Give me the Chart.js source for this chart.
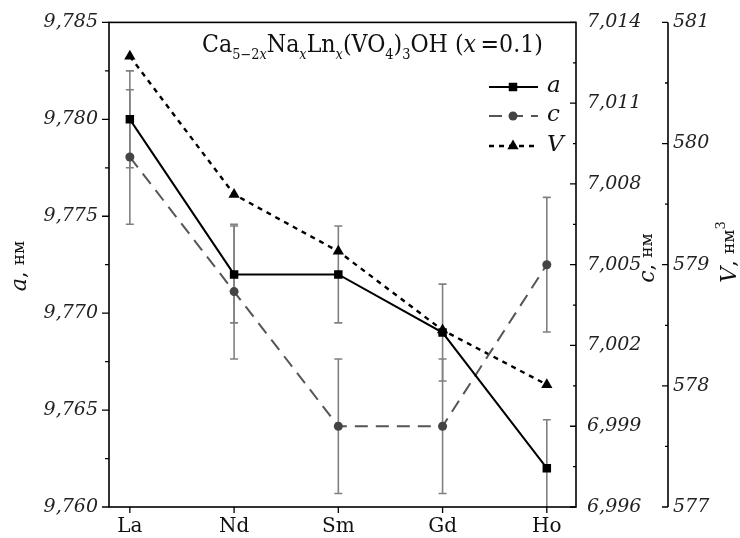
<!DOCTYPE html>
<html>
<head>
<meta charset="utf-8">
<script src="https://cdn.jsdelivr.net/npm/chart.js@4.4.0/dist/chart.umd.min.js"></script>
<style>
html, body { margin: 0; padding: 0; background: #fff; }
#wrap { width: 740px; height: 538px; }
</style>
</head>
<body>
<div id="wrap"><canvas id="chartLattice"></canvas></div>
<script>
const categories = ['La', 'Nd', 'Sm', 'Gd', 'Ho'];
const aValues = [9.780, 9.772, 9.772, 9.769, 9.762];
const aErrors = [0.0025, 0.0025, 0.0025, 0.0025, 0.0025];
const cValues = [7.009, 7.004, 6.999, 6.999, 7.005];
const cErrors = [0.0025, 0.0025, 0.0025, 0.0025, 0.0025];
const vValues = [580.72, 579.58, 579.11, 578.46, 578.01];
const aTicks = [9.760, 9.765, 9.770, 9.775, 9.780, 9.785];
const cTicks = [6.996, 6.999, 7.002, 7.005, 7.008, 7.011, 7.014];
const vTicks = [577, 578, 579, 580, 581];

const SERIF = '"DejaVu Serif", "Liberation Serif", serif';
const fmt3 = v => Number(v).toFixed(3).replace('.', ',');
const toPoints = arr => arr.map((y, i) => ({ x: i, y: y }));

// draw a row of text pieces with different fonts / offsets
function drawRuns(ctx, runs, x, y) {
    let cx = x;
    runs.forEach(r => {
        ctx.font = r.font;
        ctx.fillText(r.t, cx, y + (r.dy || 0));
        cx += ctx.measureText(r.t).width;
    });
}
function runsWidth(ctx, runs) {
    let w = 0;
    runs.forEach(r => { ctx.font = r.font; w += ctx.measureText(r.t).width; });
    return w;
}

const main = '24px ' + SERIF;
const sub = '14px ' + SERIF;
const subI = 'italic 14px ' + SERIF;
const titleRuns = [
    { t: 'Ca', font: main }, { t: '5\u22122', font: sub, dy: 7 }, { t: 'x', font: subI, dy: 7 },
    { t: 'Na', font: main }, { t: 'x', font: subI, dy: 7 },
    { t: 'Ln', font: main }, { t: 'x', font: subI, dy: 7 },
    { t: '(VO', font: main }, { t: '4', font: sub, dy: 7 },
    { t: ')', font: main }, { t: '3', font: sub, dy: 7 },
    { t: 'OH (', font: main }, { t: 'x', font: 'italic 24px ' + SERIF },
    { t: '\u2009=0.1)', font: main }
];

function axisTitle(ctx, runs, cx, cy) {
    ctx.save();
    ctx.translate(cx, cy);
    ctx.rotate(-Math.PI / 2);
    ctx.textBaseline = 'middle';
    drawRuns(ctx, runs, -runsWidth(ctx, runs) / 2, 0);
    ctx.restore();
}

function yTickMarks(ctx, scale, values, x, major, minor) {
    ctx.beginPath();
    values.forEach((v, i) => {
        const y = scale.getPixelForValue(v);
        ctx.moveTo(x, y); ctx.lineTo(x - major, y);
        if (i < values.length - 1) {
            const ym = scale.getPixelForValue((v + values[i + 1]) / 2);
            ctx.moveTo(x, ym); ctx.lineTo(x - minor, ym);
        }
    });
    ctx.stroke();
}

const overlay = {
    id: 'overlay',
    beforeDatasetsDraw(chart) {
        const { ctx, chartArea: ca, scales } = chart;
        ctx.save();
        ctx.beginPath();
        ctx.rect(ca.left, ca.top, ca.right - ca.left, ca.bottom - ca.top);
        ctx.clip();
        ctx.strokeStyle = '#808080';
        ctx.lineWidth = 1.6;
        const bar = (i, v, e, sc) => {
            const x = scales.x.getPixelForValue(i);
            const y1 = sc.getPixelForValue(v + e);
            const y2 = sc.getPixelForValue(v - e);
            ctx.beginPath();
            ctx.moveTo(x, y1); ctx.lineTo(x, y2);
            ctx.moveTo(x - 4, y1); ctx.lineTo(x + 4, y1);
            ctx.moveTo(x - 4, y2); ctx.lineTo(x + 4, y2);
            ctx.stroke();
        };
        aValues.forEach((v, i) => bar(i, v, aErrors[i], scales.a));
        cValues.forEach((v, i) => bar(i, v, cErrors[i], scales.c));
        ctx.restore();
    },
    afterDraw(chart) {
        const { ctx, chartArea: ca, scales } = chart;
        ctx.save();
        // frame and axis lines
        ctx.strokeStyle = '#000';
        ctx.lineWidth = 1.6;
        ctx.strokeRect(ca.left, ca.top, ca.right - ca.left, ca.bottom - ca.top);
        ctx.beginPath();
        ctx.moveTo(scales.v.left, ca.top); ctx.lineTo(scales.v.left, ca.bottom);
        ctx.stroke();
        ctx.lineWidth = 1.3;
        yTickMarks(ctx, scales.a, aTicks, ca.left, 7, 4);
        yTickMarks(ctx, scales.c, cTicks, ca.right, 6, 3);
        yTickMarks(ctx, scales.v, vTicks, scales.v.left, 6, 3);
        ctx.beginPath();
        categories.forEach((c, i) => {
            const x = scales.x.getPixelForValue(i);
            ctx.moveTo(x, ca.bottom); ctx.lineTo(x, ca.bottom + 6);
        });
        ctx.stroke();

        // formula, squeezed a little to the width of the original
        ctx.fillStyle = '#111';
        ctx.textBaseline = 'alphabetic';
        const tw = runsWidth(ctx, titleRuns);
        ctx.save();
        ctx.translate(202, 52);
        ctx.scale(341 / tw, 1);
        drawRuns(ctx, titleRuns, 0, 0);
        ctx.restore();

        // axis titles
        const unit = '17px ' + SERIF;
        axisTitle(ctx, [{ t: 'a', font: 'italic 22px ' + SERIF }, { t: ', ', font: '20px ' + SERIF }, { t: 'нм', font: unit }], 20, 266);
        axisTitle(ctx, [{ t: 'c', font: 'italic 22px ' + SERIF }, { t: ', ', font: '20px ' + SERIF }, { t: 'нм', font: unit }], 648, 258);
        axisTitle(ctx, [{ t: 'V', font: 'italic 22px ' + SERIF }, { t: ', ', font: '20px ' + SERIF }, { t: 'нм', font: unit }, { t: '3', font: '13px ' + SERIF, dy: -8 }], 730, 252);

        // legend
        const rows = [87, 116, 146];
        chart.data.datasets.forEach((ds, k) => {
            const y = rows[k];
            ctx.strokeStyle = ds.borderColor;
            ctx.lineWidth = ds.borderWidth;
            ctx.setLineDash(ds.borderDash || []);
            ctx.beginPath();
            ctx.moveTo(489, y); ctx.lineTo(538, y);
            ctx.stroke();
            ctx.setLineDash([]);
            ctx.fillStyle = ds.pointBackgroundColor;
            ctx.strokeStyle = ds.pointBackgroundColor;
            Chart.helpers.drawPoint(ctx, { pointStyle: ds.pointStyle, radius: ds.pointRadius, rotation: 0, borderWidth: 0 }, 513, y);
            ctx.fillStyle = '#111';
            ctx.font = 'italic 23px ' + SERIF;
            ctx.textBaseline = 'middle';
            ctx.fillText(ds.label, 547, y - 1);
        });
        ctx.restore();
    }
};

new Chart(document.getElementById('chartLattice'), {
    type: 'line',
    data: {
        datasets: [{
            label: 'a',
            data: toPoints(aValues),
            yAxisID: 'a',
            borderColor: '#000',
            borderWidth: 2,
            pointStyle: 'rect',
            pointRadius: 6,
            pointBackgroundColor: '#000',
            pointBorderWidth: 0
        }, {
            label: 'c',
            data: toPoints(cValues),
            yAxisID: 'c',
            borderColor: '#555',
            borderWidth: 2,
            borderDash: [13, 8],
            pointStyle: 'circle',
            pointRadius: 4.5,
            pointBackgroundColor: '#444',
            pointBorderWidth: 0
        }, {
            label: 'V',
            data: toPoints(vValues),
            yAxisID: 'v',
            borderColor: '#000',
            borderWidth: 2.4,
            borderDash: [5, 5],
            pointStyle: 'triangle',
            pointRadius: 6.5,
            pointBackgroundColor: '#000',
            pointBorderWidth: 0
        }]
    },
    options: {
        responsive: true,
        maintainAspectRatio: false,
        animation: false,
        layout: { padding: { top: 21, left: 0, right: 0, bottom: 0 } },
        plugins: { legend: { display: false }, tooltip: { enabled: false } },
        scales: {
            x: {
                type: 'linear',
                min: -0.2,
                max: 4.28,
                grid: { display: false, drawTicks: false },
                border: { display: false },
                afterBuildTicks: s => { s.ticks = categories.map((c, i) => ({ value: i })) },
                afterFit: s => { s.height = 31 },
                ticks: {
                    autoSkip: false,
                    maxRotation: 0,
                    padding: 8,
                    color: '#111',
                    font: { family: SERIF, size: 20 },
                    callback: v => categories[v]
                }
            },
            a: {
                position: 'left',
                min: 9.760,
                max: 9.785,
                grid: { display: false, drawTicks: false },
                border: { display: false },
                afterBuildTicks: s => { s.ticks = aTicks.map(v => ({ value: v })) },
                afterFit: s => { s.width = 109 },
                ticks: { padding: 11, color: '#222', font: { family: SERIF, size: 19, style: 'italic' }, callback: fmt3 }
            },
            c: {
                position: 'right',
                weight: 0,
                min: 6.996,
                max: 7.014,
                grid: { display: false, drawTicks: false },
                border: { display: false },
                afterBuildTicks: s => { s.ticks = cTicks.map(v => ({ value: v })) },
                afterFit: s => { s.width = 92 },
                ticks: { padding: 11, color: '#222', font: { family: SERIF, size: 19, style: 'italic' }, callback: fmt3 }
            },
            v: {
                position: 'right',
                weight: 1,
                min: 577,
                max: 581,
                grid: { display: false, drawTicks: false },
                border: { display: false },
                afterBuildTicks: s => { s.ticks = vTicks.map(v => ({ value: v })) },
                afterFit: s => { s.width = 72 },
                ticks: { padding: 5, color: '#222', font: { family: SERIF, size: 19, style: 'italic' }, callback: v => String(v) }
            }
        }
    },
    plugins: [overlay]
});
</script>
</body>
</html>
